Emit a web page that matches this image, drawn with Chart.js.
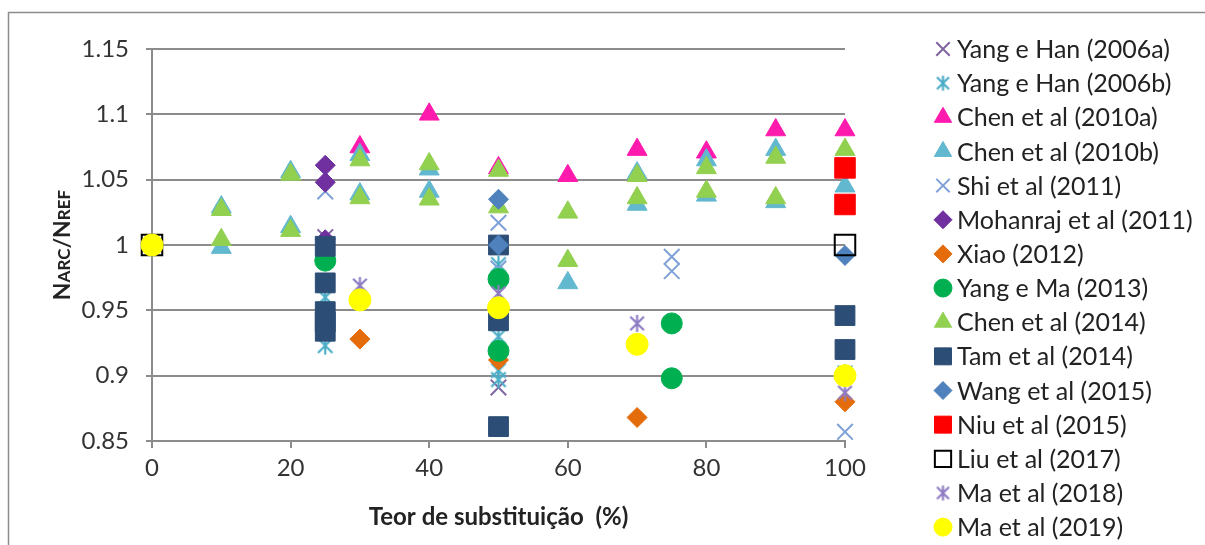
<!DOCTYPE html>
<html>
<head>
<meta charset="utf-8">
<script src="https://cdn.jsdelivr.net/npm/chart.js@4/dist/chart.umd.min.js"></script>
<style>
  html, body { margin: 0; padding: 0; background: #fff; overflow: hidden; }
</style>
</head>
<body>
<canvas id="narcChart" width="1205" height="545"></canvas>
<script>
'use strict';

// ---- data ----
const seriesNames = [
    'Yang e Han (2006a)', 'Yang e Han (2006b)', 'Chen et al (2010a)', 'Chen et al (2010b)',
    'Shi et al (2011)', 'Mohanraj et al (2011)', 'Xiao (2012)', 'Yang e Ma (2013)',
    'Chen et al (2014)', 'Tam et al (2014)', 'Wang et al (2015)', 'Niu et al (2015)',
    'Liu et al (2017)', 'Ma et al (2018)', 'Ma et al (2019)'
];
const xTicks = [0, 20, 40, 60, 80, 100];
const yTicks = [0.85, 0.9, 0.95, 1, 1.05, 1.1, 1.15];

const yangHanAX = [25, 50];
const yangHanAY = [1.006, 0.891];
const yangHanBX = [25, 25, 25, 50, 50, 50, 50, 100];
const yangHanBY = [0.99, 0.96, 0.923, 0.985, 0.93, 0.904, 0.897, 0.902];
const chen2010aX = [30, 40, 50, 60, 70, 80, 90, 100];
const chen2010aY = [1.075, 1.1, 1.059, 1.053, 1.073, 1.071, 1.088, 1.088];
const chen2010bX = [10, 10, 20, 20, 30, 30, 40, 40, 60, 70, 70, 80, 80, 90, 90, 100];
const chen2010bY = [1.029, 0.998, 1.056, 1.014, 1.069, 1.039, 1.058, 1.041, 0.971, 1.055, 1.031, 1.065, 1.038, 1.073, 1.033, 1.045];
const shi2011X = [25, 50, 50, 75, 75, 100];
const shi2011Y = [1.041, 1.017, 0.982, 0.991, 0.98, 0.857];
const mohanrajX = [25, 25, 25];
const mohanrajY = [1.061, 1.048, 1.004];
const xiao2012X = [30, 50, 70, 100];
const xiao2012Y = [0.928, 0.912, 0.868, 0.88];
const yangMaX = [25, 50, 50, 75, 75];
const yangMaY = [0.988, 0.974, 0.919, 0.94, 0.898];
const chen2014X = [10, 10, 20, 20, 30, 30, 40, 40, 50, 50, 60, 60, 70, 70, 80, 80, 90, 90, 100];
const chen2014Y = [1.027, 1.004, 1.054, 1.011, 1.065, 1.036, 1.062, 1.035, 1.057, 1.029, 1.025, 0.988, 1.053, 1.036, 1.059, 1.041, 1.067, 1.036, 1.073];
const tam2014X = [25, 25, 25, 25, 25, 50, 50, 50, 100, 100];
const tam2014Y = [0.999, 0.971, 0.949, 0.941, 0.934, 1.0, 0.942, 0.861, 0.946, 0.92];
const wang2015X = [50, 50, 100];
const wang2015Y = [1.035, 1.0, 0.992];
const niu2015X = [100, 100];
const niu2015Y = [1.059, 1.031];
const liu2017X = [0, 100];
const liu2017Y = [1.0, 1.0];
const ma2018X = [30, 50, 70, 100];
const ma2018Y = [0.969, 0.963, 0.94, 0.887];
const ma2019X = [0, 30, 50, 70, 100];
const ma2019Y = [1.0, 0.958, 0.952, 0.924, 0.9];

const seriesX = [yangHanAX, yangHanBX, chen2010aX, chen2010bX, shi2011X, mohanrajX, xiao2012X,
    yangMaX, chen2014X, tam2014X, wang2015X, niu2015X, liu2017X, ma2018X, ma2019X];
const seriesY = [yangHanAY, yangHanBY, chen2010aY, chen2010bY, shi2011Y, mohanrajY, xiao2012Y,
    yangMaY, chen2014Y, tam2014Y, wang2015Y, niu2015Y, liu2017Y, ma2018Y, ma2019Y];

// ---- look ----
const FONT = 'Lato, "Liberation Sans", sans-serif';
const FS = 24;
const LEGEND_FS = 25;
const GRID = '#8c8c8c';
const TEXT = '#333333';

function asterisk(color, size) {
    const c = document.createElement('canvas');
    c.width = size;
    c.height = size;
    const g = c.getContext('2d');
    const m = size / 2, r = size / 2 - 1, d = r * 0.8;
    g.strokeStyle = color;
    g.lineWidth = 2.2;
    g.beginPath();
    g.moveTo(m, m - r); g.lineTo(m, m + r);
    g.moveTo(m - d, m - d); g.lineTo(m + d, m + d);
    g.moveTo(m + d, m - d); g.lineTo(m - d, m + d);
    g.stroke();
    return c;
}

const markers = [
    {shape: 'crossRot', fill: '#8064a2', stroke: '#8064a2', lw: 2, r: 11, lr: 9.5},
    {shape: asterisk('#4bacc6', 20), legend: asterisk('#4bacc6', 17), fill: '#4bacc6', stroke: '#4bacc6', lw: 2, r: 10, lr: 8},
    {shape: 'triangle', fill: '#ff1aae', stroke: '#ff1aae', lw: 1, r: 11.5, lr: 10},
    {shape: 'triangle', fill: '#62b8cf', stroke: '#62b8cf', lw: 1, r: 11.5, lr: 10},
    {shape: 'crossRot', fill: '#7ea1d8', stroke: '#7ea1d8', lw: 2, r: 11, lr: 9.5},
    {shape: 'rectRot', fill: '#7030a0', stroke: '#7030a0', lw: 1, r: 10, lr: 9},
    {shape: 'rectRot', fill: '#e46c0a', stroke: '#e46c0a', lw: 1, r: 10, lr: 9},
    {shape: 'circle', fill: '#00b050', stroke: '#00b050', lw: 1, r: 10.5, lr: 9},
    {shape: 'triangle', fill: '#92d050', stroke: '#92d050', lw: 1, r: 11.5, lr: 10},
    {shape: 'rect', fill: '#2c4d75', stroke: '#2c4d75', lw: 1, r: 14, lr: 12},
    {shape: 'rectRot', fill: '#4f81bd', stroke: '#4f81bd', lw: 1, r: 10, lr: 9},
    {shape: 'rect', fill: '#ff0000', stroke: '#ff0000', lw: 1, r: 14.5, lr: 12},
    {shape: 'rect', fill: 'rgba(0,0,0,0)', stroke: '#000000', lw: 2, r: 14.5, lr: 11.5},
    {shape: asterisk('#8e7cc3', 19), legend: asterisk('#8e7cc3', 17), fill: '#8e7cc3', stroke: '#8e7cc3', lw: 2, r: 9, lr: 8},
    {shape: 'circle', fill: '#ffff00', stroke: '#ffff00', lw: 1, r: 11, lr: 9}
];

const datasets = seriesNames.map((name, i) => ({
    label: name,
    data: seriesX[i].map((x, j) => ({x: x, y: seriesY[i][j]})),
    pointStyle: markers[i].shape,
    pointRadius: markers[i].r,
    backgroundColor: markers[i].fill,
    borderColor: markers[i].stroke,
    borderWidth: markers[i].lw,
    order: seriesNames.length - i,   // later series on top, like the original
    clip: false
}));

// frame, y title with small caps, legend
const decor = {
    id: 'decor',
    beforeDraw(chart) {
        const ctx = chart.ctx;
        ctx.save();
        ctx.fillStyle = '#fff';
        ctx.fillRect(0, 0, chart.width, chart.height);
        ctx.strokeStyle = GRID;
        ctx.lineWidth = 1.5;
        ctx.strokeRect(8.5, 12.5, 1400, 700);
        ctx.restore();
    },
    afterDraw(chart) {
        const ctx = chart.ctx;
        const area = chart.chartArea;

        // y axis title: N big, rest small caps
        const parts = [['N', 23], ['ARC', 17], ['/', 23], ['N', 23], ['REF', 17]];
        ctx.save();
        let total = 0;
        parts.forEach(p => { ctx.font = 'bold ' + p[1] + 'px ' + FONT; total += ctx.measureText(p[0]).width; });
        ctx.translate(62, (area.top + area.bottom) / 2);
        ctx.rotate(-Math.PI / 2);
        ctx.fillStyle = '#222';
        ctx.textBaseline = 'alphabetic';
        let px = -total / 2;
        parts.forEach(p => {
            ctx.font = 'bold ' + p[1] + 'px ' + FONT;
            ctx.fillText(p[0], px, 8);
            px += ctx.measureText(p[0]).width;
        });
        ctx.restore();

        // legend
        const lx = 943, tx = 957, top = 49, step = 34.15;
        seriesNames.forEach((name, i) => {
            const m = markers[i];
            const y = top + i * step;
            ctx.save();
            ctx.fillStyle = m.fill;
            ctx.strokeStyle = m.stroke;
            ctx.lineWidth = m.lw;
            Chart.helpers.drawPoint(ctx, {
                pointStyle: m.legend || m.shape,
                radius: m.lr,
                rotation: 0,
                borderWidth: m.lw
            }, lx, y);
            ctx.restore();
            ctx.save();
            ctx.fillStyle = '#222';
            ctx.font = LEGEND_FS + 'px ' + FONT;
            ctx.textBaseline = 'middle';
            ctx.fillText(name, tx, y + 1);
            ctx.restore();
        });
    }
};

Chart.defaults.font.family = FONT;

new Chart('narcChart', {
    type: 'scatter',
    data: {datasets: datasets},
    options: {
        responsive: false,
        animation: false,
        events: [],
        devicePixelRatio: 1,
        layout: {padding: {left: 0, top: 49, right: 360, bottom: 0}},
        plugins: {
            legend: {display: false},
            tooltip: {enabled: false}
        },
        scales: {
            x: {
                type: 'linear',
                min: 0,
                max: 100,
                afterBuildTicks: s => { s.ticks = xTicks.map(v => ({value: v})); },
                afterFit: s => { s.height = 104; },
                ticks: {color: TEXT, font: {size: FS}, padding: 6, maxRotation: 0,
                    callback: v => String(v)},
                grid: {drawOnChartArea: false, drawTicks: true, tickLength: 7, color: GRID, lineWidth: 2},
                border: {color: GRID, width: 2},
                title: {
                    display: true,
                    text: 'Teor de substituição  (%)',
                    color: '#222',
                    font: {size: FS, weight: 'bold'},
                    padding: {top: 0, bottom: 13}
                }
            },
            y: {
                min: 0.85,
                max: 1.15,
                afterBuildTicks: s => { s.ticks = yTicks.map(v => ({value: v})); },
                afterFit: s => { s.width = 152; },
                ticks: {color: TEXT, font: {size: FS}, padding: 17,
                    callback: v => String(v)},
                grid: {color: GRID, lineWidth: 2, tickLength: 6},
                border: {color: GRID, width: 2}
            }
        }
    },
    plugins: [decor]
});
</script>
</body>
</html>
